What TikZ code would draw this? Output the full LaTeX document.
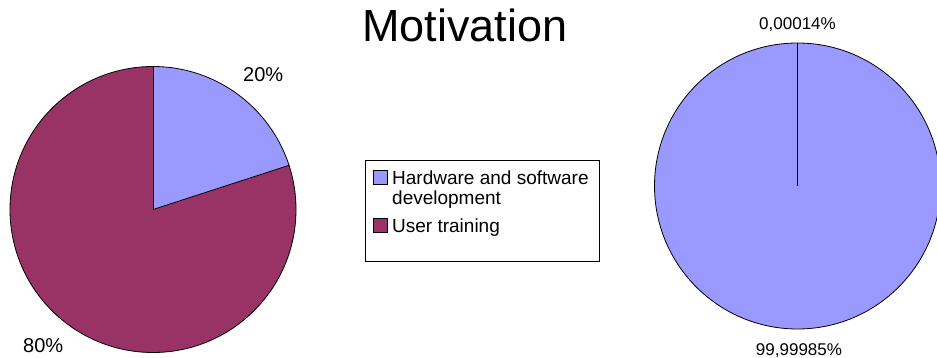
\documentclass[tikz,border=0pt]{standalone}
\usepackage{fontspec}
\setmainfont{Liberation Sans}
\definecolor{piblue}{HTML}{9999FF}
\definecolor{pimaroon}{HTML}{993366}
\tikzset{
  slice/.style={draw=black,line width=0.8pt,line join=round},
  pct/.style={inner sep=0pt,font=\fontsize{20}{24}\selectfont},
  smallpct/.style={inner sep=0pt,font=\fontsize{17}{20}\selectfont},
  legkey/.style={draw=black,line width=0.8pt,minimum size=14pt,inner sep=0pt},
  legtext/.style={inner sep=0pt,align=left,anchor=base west,font=\fontsize{19}{20}\selectfont}
}
\begin{document}
\begin{tikzpicture}[x=1pt,y=-1pt]
\useasboundingbox (0,0) rectangle (937,358);
% left pie
\coordinate (lc) at (153,209.5);
\fill[pimaroon] (lc) -- ++(-18:143) arc (-18:270:143) -- cycle;
\fill[piblue] (lc) -- ++(-90:143) arc (-90:-18:143) -- cycle;
\draw[slice] (lc) circle (143);
\draw[slice] (lc) -- ++(-90:143);
\draw[slice] (lc) -- ++(-18:143);
\node[pct,anchor=base west] (p20) at (243,82) {20\%};
\node[pct,anchor=base west] (p80) at (23,352) {80\%};
% title
\node[inner sep=0pt,anchor=base,font=\fontsize{45}{50}\selectfont] (title) at (465,42) {Motivation};
% legend
\draw[line width=0.8pt] (365,160) rectangle (599,261);
\node[legkey,fill=piblue] (k1) at (380,177.5) {};
\node[legkey,fill=pimaroon] (k2) at (380,225.5) {};
\node[legtext] (t1) at (392,204.5) {Hardware and software\\development};
\node[legtext] (t2) at (392,233) {User training};
% right pie
\coordinate (rc) at (797.5,186);
\fill[piblue] (rc) circle (143);
\draw[slice] (rc) circle (143);
\draw[line width=1.6pt] (rc) -- ++(-90:143);
\node[smallpct,anchor=base] (p0) at (797.5,30) {0,00014\%};
\node[smallpct,anchor=base] (p99) at (799,355) {99,99985\%};
\end{tikzpicture}
\end{document}
